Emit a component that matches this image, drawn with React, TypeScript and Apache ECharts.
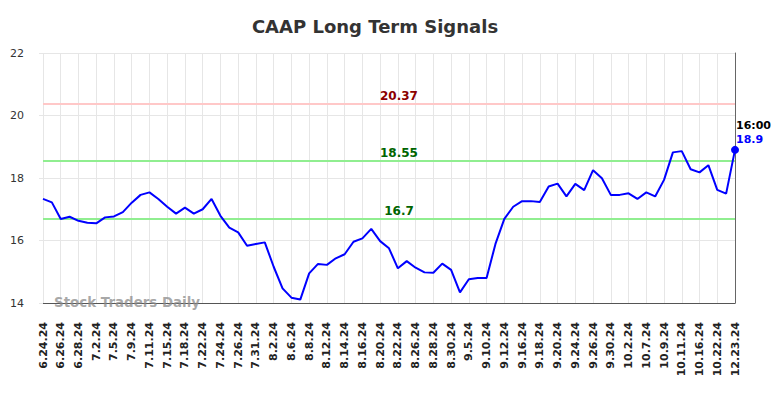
import React, { useEffect, useRef } from "react";
import * as echarts from "echarts";

const categories: string[] = [
  "6.24.24", "6.25.24", "6.26.24", "6.27.24", "6.28.24", "7.1.24", "7.2.24", "7.3.24", "7.5.24", "7.8.24",
  "7.9.24", "7.10.24", "7.11.24", "7.12.24", "7.15.24", "7.16.24", "7.18.24", "7.19.24", "7.22.24", "7.23.24",
  "7.24.24", "7.25.24", "7.26.24", "7.29.24", "7.31.24", "8.1.24", "8.2.24", "8.5.24", "8.6.24", "8.7.24",
  "8.8.24", "8.9.24", "8.12.24", "8.13.24", "8.14.24", "8.15.24", "8.16.24", "8.19.24", "8.20.24", "8.21.24",
  "8.22.24", "8.23.24", "8.26.24", "8.27.24", "8.28.24", "8.29.24", "8.30.24", "9.3.24", "9.5.24", "9.6.24",
  "9.10.24", "9.11.24", "9.12.24", "9.13.24", "9.16.24", "9.17.24", "9.18.24", "9.19.24", "9.20.24", "9.23.24",
  "9.24.24", "9.25.24", "9.26.24", "9.27.24", "9.30.24", "10.1.24", "10.2.24", "10.3.24", "10.7.24", "10.8.24",
  "10.9.24", "10.10.24", "10.11.24", "10.14.24", "10.16.24", "10.18.24", "10.22.24", "10.23.24", "12.23.24",
];

const prices: number[] = [
  17.33, 17.22, 16.69, 16.76, 16.63, 16.57, 16.55, 16.74, 16.77, 16.91,
  17.21, 17.46, 17.54, 17.33, 17.08, 16.86, 17.05, 16.86, 17.0, 17.33,
  16.79, 16.41, 16.26, 15.83, 15.89, 15.94, 15.16, 14.47, 14.17, 14.11,
  14.95, 15.25, 15.22, 15.43, 15.56, 15.96, 16.07, 16.37, 15.98, 15.75,
  15.11, 15.34, 15.13, 14.98, 14.97, 15.26, 15.06, 14.34, 14.76, 14.8,
  14.8, 15.89, 16.69, 17.08, 17.26, 17.26, 17.23, 17.73, 17.82, 17.41,
  17.81, 17.61, 18.25, 17.99, 17.46, 17.46, 17.51, 17.33, 17.54, 17.41,
  17.94, 18.82, 18.86, 18.28, 18.18, 18.41, 17.62, 17.5, 18.9,
];

const signalValues: number[] = [20.37, 18.55, 16.7];
const signalLineColors: string[] = ["#ffc8c8", "#90ee90", "#90ee90"];
const signalLabelColors: string[] = ["#8b0000", "#006400", "#006400"];

const yTicks = { min: 14, max: 22, interval: 2 };
const lastTime = "16:00";

export default function App() {
  const ref = useRef<HTMLDivElement>(null);

  useEffect(() => {
    document.body.style.margin = "0";
    if (!ref.current) return;
    const chart = echarts.init(ref.current, null, { renderer: "svg" });
    const lastIdx = prices.length - 1;
    const seriesData = prices.map((v, i) =>
      i === lastIdx
        ? {
            value: v,
            symbol: "circle",
            symbolSize: 8,
            label: {
              show: true,
              position: [5, -27],
              align: "left",
              formatter: () => `{t|${lastTime}}\n{v|${v}}`,
              rich: {
                t: { fontSize: 11, fontWeight: "bold", color: "#000", lineHeight: 14, fontFamily: "DejaVu Sans" },
                v: { fontSize: 11, fontWeight: "bold", color: "#0000ff", lineHeight: 14, fontFamily: "DejaVu Sans" },
              },
            },
          }
        : { value: v }
    );

    chart.setOption({
      animation: false,
      textStyle: { fontFamily: "DejaVu Sans" },
      grid: { left: 43, right: 49, top: 53, bottom: 95, containLabel: false },
      graphic: [
        {
          type: "text",
          x: 375,
          y: 26,
          style: {
            text: "CAAP Long Term Signals",
            fontSize: 18,
            fontWeight: "bold",
            fill: "#333",
            fontFamily: "DejaVu Sans",
            textAlign: "center",
            textVerticalAlign: "middle",
          },
        },
        {
          type: "text",
          x: 54,
          y: 302,
          z: 10,
          style: {
            text: "Stock Traders Daily",
            fontSize: 13.4,
            fontWeight: "bold",
            fill: "rgba(140,140,140,0.75)",
            fontFamily: "DejaVu Sans",
            textAlign: "left",
            textVerticalAlign: "middle",
          },
        },
      ],
      xAxis: {
        type: "category",
        data: categories,
        boundaryGap: false,
        axisLine: { show: true, lineStyle: { color: "#555", width: 1 } },
        axisTick: { show: false, interval: 1 },
        axisLabel: {
          interval: 1,
          rotate: 90,
          fontSize: 11,
          fontWeight: "bold",
          color: "#222",
          margin: 19,
        },
        splitLine: { show: true, interval: 1, lineStyle: { color: "#e6e6e6", width: 1 } },
      },
      yAxis: [
        {
          type: "value",
          min: yTicks.min,
          max: yTicks.max,
          interval: yTicks.interval,
          axisLine: { show: false },
          axisTick: { show: true, length: 4, lineStyle: { color: "#e6e6e6" } },
          axisLabel: { fontSize: 11, color: "#333", margin: 19 },
          splitLine: { show: true, lineStyle: { color: "#e6e6e6", width: 1 } },
        },
        {
          type: "value",
          position: "right",
          min: yTicks.min,
          max: yTicks.max,
          interval: yTicks.interval,
          axisLine: { show: true, lineStyle: { color: "#666", width: 1 } },
          axisTick: { show: false },
          axisLabel: { show: false },
          splitLine: { show: false },
        },
      ],
      series: [
        {
          type: "line",
          data: seriesData,
          symbol: "none",
          showSymbol: true,
          itemStyle: { color: "#0000ff" },
          lineStyle: { color: "#0000ff", width: 2 },
          z: 5,
          markLine: {
            silent: true,
            symbol: ["none", "none"],
            data: signalValues.map((v, i) => ({
              yAxis: v,
              lineStyle: { color: signalLineColors[i], width: 2, type: "solid" },
              label: {
                show: true,
                position: "insideMiddleTop",
                formatter: String(v),
                color: signalLabelColors[i],
                fontSize: 12,
                fontWeight: "bold",
                distance: 2,
                offset: [10, 0],
              },
            })),
          },
        },
      ],
    });
    return () => chart.dispose();
  }, []);

  return <div ref={ref} style={{ width: 784, height: 398 }} />;
}
